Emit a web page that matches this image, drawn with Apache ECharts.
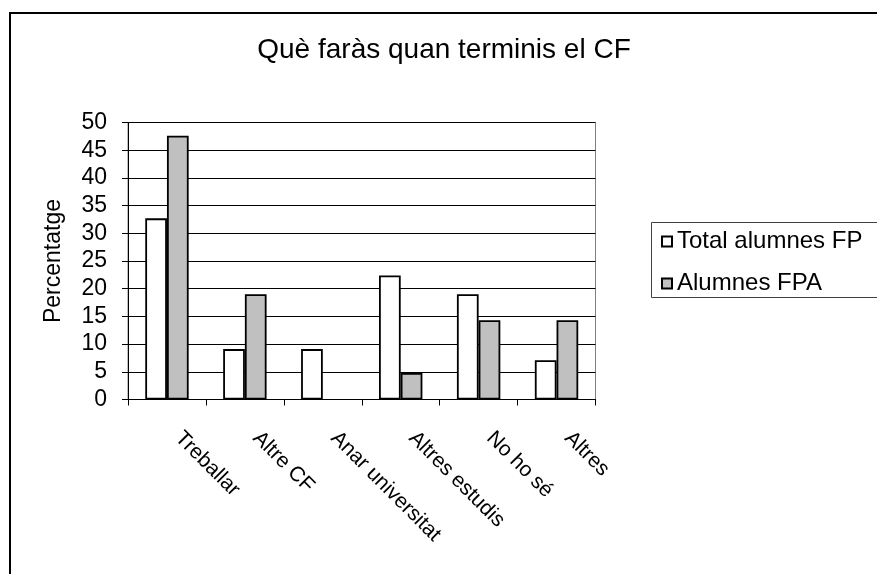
<!DOCTYPE html>
<html>
<head>
<meta charset="utf-8">
<script src="https://cdn.jsdelivr.net/npm/echarts@6/dist/echarts.min.js"></script>
<style>
  html, body { margin: 0; padding: 0; background: #fff; }
  #chart { width: 877px; height: 574px; }
</style>
</head>
<body>
<div id="chart"></div>
<script>
// Survey answers: what students plan to do after finishing the CF
const categories = ['Treballar', 'Altre CF', 'Anar universitat', 'Altres estudis', 'No ho sé', 'Altres'];
const totalFP = [32.7, 9.1, 9.1, 22.4, 19.0, 7.1];
const alumnesFPA = [47.6, 19.0, 0, 4.8, 14.3, 14.3];
const seriesNames = ['Total alumnes FP', 'Alumnes FPA'];
const yTicks = { min: 0, max: 50, step: 5 };

const FONT = 'Liberation Sans, Arial, sans-serif';

// zero-height bars get no outline so nothing is drawn on the axis
function barData(values) {
  return values.map(v => v === 0 ? { value: v, itemStyle: { borderWidth: 0 } } : v);
}

const chart = echarts.init(document.getElementById('chart'), null, { renderer: 'canvas' });

chart.setOption({
  animation: false,
  backgroundColor: '#ffffff',
  textStyle: { fontFamily: FONT, color: '#000' },
  title: {
    text: 'Què faràs quan terminis el CF',
    left: 439,
    top: 31,
    textAlign: 'center',
    textStyle: { fontFamily: FONT, fontSize: 28, fontWeight: 'normal', color: '#000' }
  },
  graphic: [
    {
      // outer chart frame
      type: 'rect',
      shape: { x: 10, y: 13, width: 900, height: 600 },
      style: { fill: 'none', stroke: '#000', lineWidth: 2 },
      z: 100
    },
    {
      // legend frame
      type: 'rect',
      shape: { x: 651.5, y: 222.5, width: 260, height: 75 },
      style: { fill: '#fff', stroke: '#404040', lineWidth: 1 },
      z: 0
    }
  ],
  legend: {
    orient: 'vertical',
    left: 661,
    top: 229.5,
    padding: 0,
    itemWidth: 10,
    itemHeight: 10,
    itemGap: 18,
    icon: 'rect',
    textStyle: { fontFamily: FONT, fontSize: 24, lineHeight: 24, color: '#000' },
    data: seriesNames
  },
  grid: {
    left: 128,
    top: 122.5,
    width: 467.5,
    height: 277,
    show: true,
    borderColor: '#808080',
    borderWidth: 1,
    backgroundColor: 'transparent'
  },
  xAxis: {
    type: 'category',
    data: categories,
    boundaryGap: true,
    axisLine: { show: true, lineStyle: { color: '#000', width: 1 } },
    axisTick: { show: true, length: 6, inside: false, alignWithLabel: false, lineStyle: { color: '#000' } },
    axisLabel: {
      interval: 0,
      rotate: -45,
      margin: 24,
      padding: [0, 0, 0, 16],
      fontFamily: FONT,
      fontSize: 21,
      color: '#000'
    },
    splitLine: { show: false }
  },
  yAxis: {
    type: 'value',
    min: yTicks.min,
    max: yTicks.max,
    interval: yTicks.step,
    name: 'Percentatge',
    nameLocation: 'middle',
    nameGap: 63,
    nameRotate: 90,
    nameTextStyle: { fontFamily: FONT, fontSize: 23, color: '#000' },
    axisLine: { show: true, lineStyle: { color: '#000', width: 1 } },
    axisTick: { show: true, length: 6, inside: false, lineStyle: { color: '#000' } },
    axisLabel: { margin: 21, fontFamily: FONT, fontSize: 23, color: '#000' },
    splitLine: { show: true, lineStyle: { color: '#000', width: 1 } }
  },
  series: [
    {
      name: seriesNames[0],
      type: 'bar',
      data: barData(totalFP),
      barWidth: 21.7,
      barGap: '0%',
      itemStyle: { color: '#ffffff', borderColor: '#000', borderWidth: 1.8 }
    },
    {
      name: seriesNames[1],
      type: 'bar',
      data: barData(alumnesFPA),
      barWidth: 21.7,
      barGap: '0%',
      itemStyle: { color: '#c0c0c0', borderColor: '#000', borderWidth: 1.8 }
    }
  ]
});
</script>
</body>
</html>
